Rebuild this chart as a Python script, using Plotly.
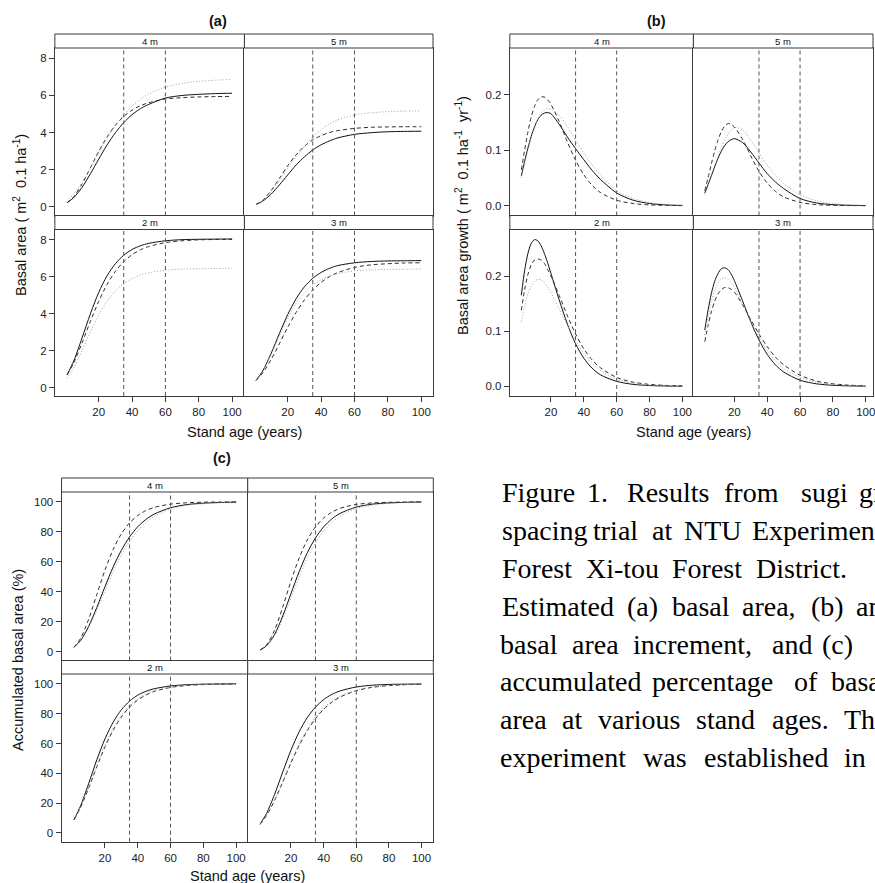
import plotly.graph_objects as go

W, H = 875, 883

# ---- data ----
age = [1, 5, 10, 15, 20, 25, 30, 35, 40, 45, 50, 60, 70, 80, 90, 100]
age_g = [2, 4, 6, 8, 10, 12, 14, 16, 18, 20, 25, 30, 35, 40, 45, 50, 60, 70, 80, 90, 100]
spacings = ["4 m", "5 m", "2 m", "3 m"]
ref_ages = [35, 60]

# (a) basal area (m2 / 0.1 ha)
ba_4m_solid = [0.22, 0.50, 1.05, 1.78, 2.57, 3.33, 3.99, 4.53, 4.96, 5.28, 5.51, 5.85, 5.99, 6.05, 6.09, 6.11]
ba_4m_dashed = [0.22, 0.55, 1.23, 2.10, 2.98, 3.76, 4.39, 4.86, 5.20, 5.44, 5.60, 5.80, 5.87, 5.91, 5.93, 5.94]
ba_4m_dotted = [0.30, 0.70, 1.34, 2.10, 2.91, 3.68, 4.37, 4.95, 5.42, 5.79, 6.07, 6.44, 6.64, 6.75, 6.81, 6.85]
ba_5m_solid = [0.13, 0.31, 0.68, 1.18, 1.72, 2.25, 2.69, 3.06, 3.34, 3.55, 3.71, 3.90, 3.99, 4.04, 4.06, 4.07]
ba_5m_dashed = [0.13, 0.36, 0.87, 1.53, 2.21, 2.80, 3.26, 3.60, 3.83, 4.00, 4.10, 4.22, 4.28, 4.30, 4.31, 4.31]
ba_5m_dotted = [0.12, 0.33, 0.80, 1.42, 2.08, 2.70, 3.24, 3.74, 4.15, 4.46, 4.68, 4.94, 5.06, 5.12, 5.15, 5.16]
ba_2m_solid = [0.68, 1.43, 2.68, 3.98, 5.14, 6.04, 6.69, 7.15, 7.46, 7.66, 7.79, 7.93, 7.99, 8.01, 8.02, 8.03]
ba_2m_dashed = [0.68, 1.33, 2.41, 3.57, 4.66, 5.57, 6.28, 6.80, 7.18, 7.44, 7.62, 7.83, 7.93, 7.98, 8.00, 8.00]
ba_2m_dotted = [0.50, 1.05, 1.99, 3.00, 3.92, 4.66, 5.22, 5.62, 5.89, 6.08, 6.20, 6.34, 6.40, 6.42, 6.43, 6.44]
ba_3m_solid = [0.38, 0.89, 1.83, 2.91, 3.94, 4.79, 5.44, 5.90, 6.22, 6.44, 6.59, 6.74, 6.81, 6.84, 6.85, 6.86]
ba_3m_dashed = [0.38, 0.78, 1.50, 2.36, 3.25, 4.05, 4.73, 5.27, 5.68, 5.99, 6.21, 6.49, 6.63, 6.69, 6.73, 6.74]
ba_3m_dotted = [0.38, 0.87, 1.77, 2.79, 3.75, 4.53, 5.12, 5.54, 5.83, 6.03, 6.16, 6.30, 6.36, 6.38, 6.39, 6.40]

# (b) basal area growth (m2 / 0.1 ha / yr)
gr_4m_solid = [0.054, 0.080, 0.104, 0.125, 0.142, 0.155, 0.163, 0.167, 0.168, 0.166, 0.147, 0.124, 0.103, 0.083, 0.064, 0.048, 0.023, 0.010, 0.004, 0.0015, 0.0005]
gr_4m_dashed = [0.065, 0.100, 0.133, 0.160, 0.179, 0.191, 0.196, 0.196, 0.191, 0.183, 0.152, 0.115, 0.082, 0.056, 0.037, 0.024, 0.010, 0.004, 0.0015, 0.0006, 0.0002]
gr_4m_dotted = [0.050, 0.075, 0.100, 0.123, 0.142, 0.157, 0.167, 0.173, 0.175, 0.174, 0.163, 0.143, 0.118, 0.095, 0.074, 0.056, 0.027, 0.013, 0.006, 0.0025, 0.001]
gr_5m_solid = [0.023, 0.038, 0.054, 0.070, 0.085, 0.098, 0.108, 0.115, 0.119, 0.121, 0.114, 0.097, 0.077, 0.058, 0.043, 0.031, 0.013, 0.005, 0.002, 0.0008, 0.0003]
gr_5m_dashed = [0.027, 0.050, 0.075, 0.098, 0.118, 0.133, 0.143, 0.148, 0.147, 0.142, 0.120, 0.090, 0.062, 0.041, 0.026, 0.016, 0.006, 0.002, 0.0008, 0.0003, 0.0001]
gr_5m_dotted = [0.020, 0.035, 0.052, 0.070, 0.088, 0.104, 0.118, 0.128, 0.136, 0.141, 0.137, 0.118, 0.095, 0.073, 0.055, 0.040, 0.020, 0.009, 0.004, 0.0017, 0.0007]
gr_2m_solid = [0.165, 0.210, 0.241, 0.259, 0.266, 0.264, 0.255, 0.241, 0.224, 0.205, 0.157, 0.113, 0.077, 0.051, 0.033, 0.021, 0.009, 0.0035, 0.0014, 0.0005, 0.0002]
gr_2m_dashed = [0.138, 0.175, 0.203, 0.220, 0.229, 0.231, 0.229, 0.223, 0.212, 0.200, 0.165, 0.128, 0.095, 0.068, 0.048, 0.034, 0.016, 0.0075, 0.0035, 0.0016, 0.0007]
gr_2m_dotted = [0.117, 0.145, 0.168, 0.182, 0.190, 0.194, 0.193, 0.188, 0.180, 0.170, 0.140, 0.111, 0.083, 0.060, 0.042, 0.029, 0.013, 0.0055, 0.0023, 0.001, 0.0004]
gr_3m_solid = [0.102, 0.138, 0.168, 0.190, 0.204, 0.213, 0.215, 0.212, 0.204, 0.192, 0.155, 0.117, 0.084, 0.058, 0.039, 0.026, 0.011, 0.0045, 0.0018, 0.0007, 0.0003]
gr_3m_dashed = [0.081, 0.110, 0.135, 0.154, 0.167, 0.175, 0.179, 0.179, 0.176, 0.171, 0.148, 0.121, 0.095, 0.072, 0.053, 0.039, 0.020, 0.0095, 0.0045, 0.002, 0.001]
gr_3m_dotted = [0.093, 0.125, 0.153, 0.173, 0.187, 0.195, 0.197, 0.195, 0.189, 0.180, 0.150, 0.118, 0.089, 0.065, 0.046, 0.032, 0.016, 0.0075, 0.0034, 0.0015, 0.0007]

# (c) accumulated basal area (%)
pct_4m_solid = [2.9, 7.3, 16.8, 29.5, 43.4, 56.6, 67.7, 76.6, 83.4, 88.3, 91.8, 96.1, 98.2, 99.1, 99.6, 99.8]
pct_4m_dashed = [2.9, 8.7, 21.5, 38.1, 54.5, 68.3, 78.7, 86.0, 90.9, 94.2, 96.3, 98.5, 99.4, 99.8, 99.9, 100.0]
pct_4m_dotted = [2.9, 7.0, 15.7, 27.5, 40.7, 53.4, 64.6, 73.7, 80.8, 86.2, 90.2, 95.1, 97.6, 98.8, 99.4, 99.7]
pct_5m_solid = [1.1, 3.9, 11.6, 24.0, 38.8, 53.4, 66.0, 75.9, 83.3, 88.6, 92.3, 96.5, 98.5, 99.3, 99.7, 99.9]
pct_5m_dashed = [1.1, 4.5, 14.5, 30.0, 47.2, 62.5, 74.6, 83.3, 89.2, 93.1, 95.7, 98.3, 99.3, 99.7, 99.9, 100.0]
pct_5m_dotted = [1.1, 3.7, 10.6, 21.9, 35.7, 49.7, 62.3, 72.5, 80.4, 86.3, 90.5, 95.5, 97.9, 99.0, 99.5, 99.8]
pct_2m_solid = [8.7, 17.9, 33.0, 49.0, 63.1, 74.3, 82.6, 88.4, 92.4, 95.0, 96.7, 98.6, 99.4, 99.8, 99.9, 100.0]
pct_2m_dashed = [8.7, 16.8, 29.9, 44.3, 57.7, 68.9, 77.8, 84.4, 89.2, 92.5, 94.9, 97.6, 98.9, 99.5, 99.8, 99.9]
pct_2m_dotted = [8.7, 17.1, 30.7, 45.5, 59.1, 70.4, 79.1, 85.5, 90.1, 93.3, 95.4, 97.9, 99.1, 99.6, 99.8, 99.9]
pct_3m_solid = [5.8, 13.0, 26.0, 41.0, 55.5, 67.8, 77.4, 84.4, 89.4, 92.9, 95.2, 97.9, 99.1, 99.6, 99.8, 99.9]
pct_3m_dashed = [5.8, 11.6, 21.9, 34.2, 46.9, 58.6, 68.6, 76.6, 82.9, 87.6, 91.1, 95.4, 97.7, 98.8, 99.4, 99.7]
pct_3m_dotted = [5.8, 11.8, 22.4, 35.0, 48.0, 59.8, 69.8, 77.7, 83.8, 88.4, 91.7, 95.8, 97.9, 99.0, 99.5, 99.8]

caption_lines = [
    ["Figure", "1.", "Results", "from", "sugi", "growth"],
    ["spacing", "trial", "at", "NTU", "Experimental"],
    ["Forest", "Xi-tou", "Forest", "District."],
    ["Estimated", "(a)", "basal", "area,", "(b)", "annual"],
    ["basal", "area", "increment,", "and", "(c)"],
    ["accumulated", "percentage", "of", "basal"],
    ["area", "at", "various", "stand", "ages.", "The"],
    ["experiment", "was", "established", "in"],
]

# ---- layout (pixels) ----
caption_x = [
    [501, 586, 626, 724, 801, 859],
    [501, 592, 651, 684, 752],
    [501, 585, 672, 756],
    [501, 626, 672, 742, 811, 856],
    [499, 571, 632, 772, 822],
    [499, 651, 794, 831],
    [499, 561, 597, 696, 772, 844],
    [499, 642, 704, 844],
]

SANS = "Liberation Sans, Arial, Helvetica, sans-serif"
SERIF = "Liberation Serif, Times New Roman, serif"
FRAME = "#3a3a3a"

panels = {
    "a": dict(cols=[(55, 245), (245, 434)], rows=[(34, 48, 215.5), (215.5, 229.5, 396)],
              xr=[[-6.3, 107.4], [-5.9, 107.0]], yr=[-0.46, 8.54],
              yt=[0, 2, 4, 6, 8], ytext=["0", "2", "4", "6", "8"], x=age,
              series={"4 m": (ba_4m_solid, ba_4m_dashed, ba_4m_dotted),
                      "5 m": (ba_5m_solid, ba_5m_dashed, ba_5m_dotted),
                      "2 m": (ba_2m_solid, ba_2m_dashed, ba_2m_dotted),
                      "3 m": (ba_3m_solid, ba_3m_dashed, ba_3m_dotted)}),
    "b": dict(cols=[(511, 695), (695, 875)], rows=[(34, 48, 215.5), (215.5, 229.5, 396)],
              xr=[[-5.0, 106.7], [-4.9, 104.4]], yr=[-0.0176, 0.2844],
              yt=[0, 0.1, 0.2], ytext=["0.0", "0.1", "0.2"], x=age_g,
              series={"4 m": (gr_4m_solid, gr_4m_dashed, gr_4m_dotted),
                      "5 m": (gr_5m_solid, gr_5m_dashed, gr_5m_dotted),
                      "2 m": (gr_2m_solid, gr_2m_dashed, gr_2m_dotted),
                      "3 m": (gr_3m_solid, gr_3m_dashed, gr_3m_dotted)}),
    "c": dict(cols=[(61.7, 248.3), (248.3, 434.3)], rows=[(478, 492, 660.5), (660.5, 674, 841.7)],
              xr=[[-6.5, 107.1], [-6.5, 107.2]], yr=[-5.9, 106.6],
              yt=[0, 20, 40, 60, 80, 100], ytext=["0", "20", "40", "60", "80", "100"], x=age,
              series={"4 m": (pct_4m_solid, pct_4m_dashed, pct_4m_dotted),
                      "5 m": (pct_5m_solid, pct_5m_dashed, pct_5m_dotted),
                      "2 m": (pct_2m_solid, pct_2m_dashed, pct_2m_dotted),
                      "3 m": (pct_3m_solid, pct_3m_dashed, pct_3m_dotted)}),
}

styles = [dict(color="#111111", width=1.0, dash="solid"),
          dict(color="#2e2e2e", width=1.0, dash="4px,3px"),
          dict(color="#a0a0a0", width=1.0, dash="1px,2px")]


def px(x):
    return x / W


def py(y):
    return 1 - y / H


def label(text, x, y, size, family=SANS, angle=0, xanchor="center", color="#111"):
    return dict(text=text, xref="paper", yref="paper", x=px(x), y=py(y),
                xanchor=xanchor, yanchor="middle", textangle=angle, showarrow=False,
                font=dict(family=family, size=size, color=color))


fig = go.Figure()
layout = {}
shapes = []
annotations = []

n = 0
for key, p in panels.items():
    for idx, sp in enumerate(spacings):
        n += 1
        r, c = divmod(idx, 2)
        x0, x1 = p["cols"][c]
        s0, s1, b = p["rows"][r]
        xa, ya = ("x" if n == 1 else f"x{n}"), ("y" if n == 1 else f"y{n}")
        bottom = r == 1
        left = c == 0
        layout["xaxis" if n == 1 else f"xaxis{n}"] = dict(
            domain=[px(x0), px(x1)], range=p["xr"][c], anchor=ya,
            showline=True, mirror=True, linecolor=FRAME, linewidth=1,
            showgrid=False, zeroline=False, fixedrange=True,
            tickvals=[20, 40, 60, 80, 100], ticks="outside" if bottom else "",
            ticklen=5, tickcolor=FRAME, showticklabels=bottom, ticklabeloverflow="allow",
            tickfont=dict(family=SANS, size=11.5, color="#222"))
        layout["yaxis" if n == 1 else f"yaxis{n}"] = dict(
            domain=[py(b), py(s1)], range=p["yr"], anchor=xa,
            showline=True, mirror=not left, linecolor=FRAME, linewidth=1,
            showgrid=False, zeroline=False, fixedrange=True,
            tickvals=p["yt"], ticktext=p["ytext"], ticks="outside" if left else "",
            ticklen=5, tickcolor=FRAME, showticklabels=left,
            tickfont=dict(family=SANS, size=11.5, color="#222"))
        # reference ages
        for ra in ref_ages:
            shapes.append(dict(type="line", xref=xa, yref=f"{ya} domain", x0=ra, x1=ra, y0=0, y1=1,
                               line=dict(color="#555555", width=1, dash="4px,3px")))
        # strip
        shapes.append(dict(type="rect", xref="paper", yref="paper",
                           x0=px(x0), x1=px(x1), y0=py(s1), y1=py(s0),
                           fillcolor="white", line=dict(color=FRAME, width=1), layer="above"))
        annotations.append(label(sp, (x0 + x1) / 2, (s0 + s1) / 2, 9.5))
        for ys, st in zip(p["series"][sp], styles):
            fig.add_trace(go.Scatter(x=p["x"], y=ys, xaxis=xa, yaxis=ya, mode="lines",
                                     line=dict(shape="spline", smoothing=0.8, **st),
                                     showlegend=False, hoverinfo="skip"))

# panel titles
for t, x, y in [("(a)", 218, 20.7), ("(b)", 658, 20.7), ("(c)", 223, 457.7)]:
    annotations.append(label(f"<b>{t}</b>", x, y, 14.5))

# axis titles
for x, y in [(245, 432), (695, 432), (248, 876)]:
    annotations.append(label("Stand age (years)", x, y, 14.5))

nb = "\u00a0"
ytitles = [
    (f"Basal area ({nb}m<sup>2</sup>{nb}{nb}0.1 ha<sup>-1</sup>)", 20, 215),
    (f"Basal area growth ({nb}m<sup>2</sup>{nb}{nb}0.1 ha<sup>-1</sup>{nb}{nb}yr<sup>-1</sup>)", 463, 215),
    ("Accumulated basal area (%)", 18, 660),
]
for t, x, y in ytitles:
    annotations.append(label(t, x, y, 14.5, angle=-90))

# caption
for i, (words, xs) in enumerate(zip(caption_lines, caption_x)):
    base = 501.7 + 37.85 * i
    for w, x in zip(words, xs):
        annotations.append(label(w, x, base - 9, 28, family=SERIF, xanchor="left", color="#000"))

fig.update_layout(width=W, height=H, margin=dict(l=0, r=0, t=0, b=0),
                  paper_bgcolor="white", plot_bgcolor="white",
                  shapes=shapes, annotations=annotations, **layout)

fig.write_html("out.html", config={"displayModeBar": False},
               post_script="document.body.style.margin='0';")
